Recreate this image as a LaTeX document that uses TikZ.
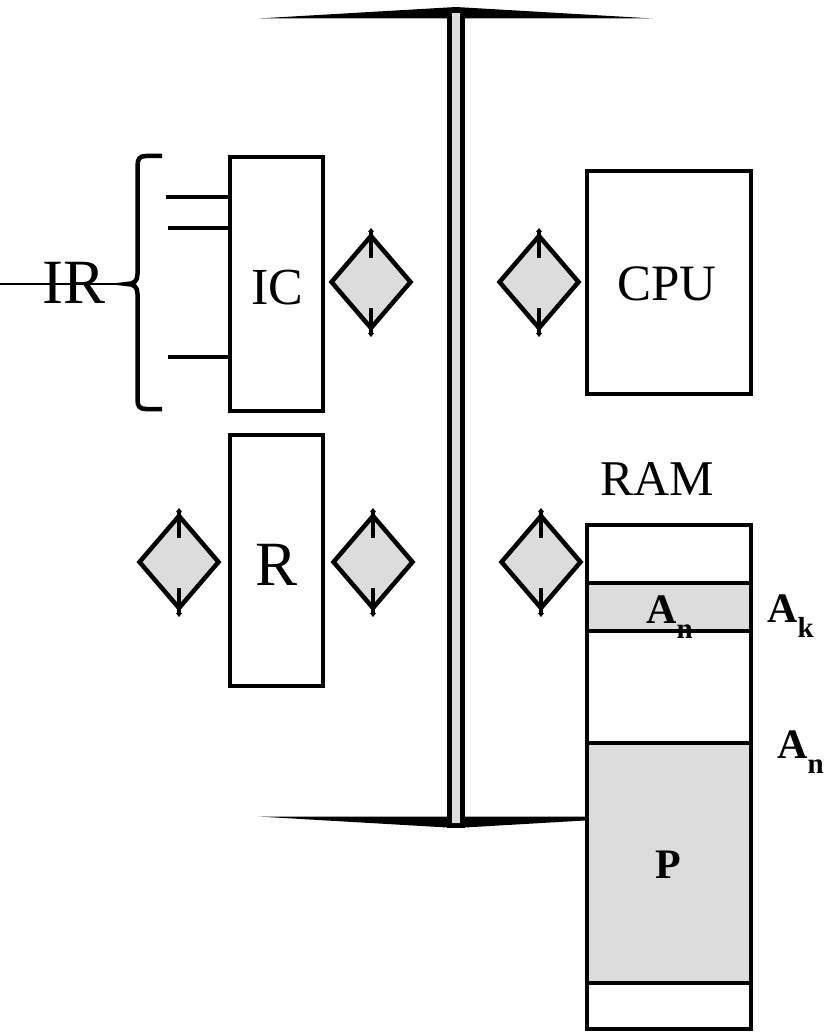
\documentclass[tikz,border=0pt]{standalone}
\usepackage{fontspec}
\setmainfont{Liberation Serif}
\usetikzlibrary{arrows.meta}
\definecolor{lg}{RGB}{220,220,220}
\newcommand\mysubx[1]{\raisebox{-15.5pt}{\fontsize{29}{29}\selectfont\bfseries #1}}
\begin{document}
\begin{tikzpicture}[x=1pt,y=-1pt,line join=miter,
  box/.style={draw,line width=4.5pt,fill=white,inner sep=0pt},
  lab/.style={anchor=base,inner sep=0pt},
  sublab/.style={anchor=base west,inner sep=0pt,font=\fontsize{42}{42}\selectfont\bfseries},
  arr/.style={line width=4.5pt,-{Triangle[length=4pt,width=6pt]}},
  thick4/.style={line width=4.5pt},
  cell/.style={draw,line width=4.5pt,fill=lg},
  dmd/.pic={
    \filldraw[line width=4.5pt,fill=lg] (0,-46) -- (39.5,0) -- (0,46) -- (-39.5,0) -- cycle;
    \draw[arr] (0,-24) -- (0,-54);
    \draw[arr] (0,26) -- (0,55);
  }]
\useasboundingbox (0,0) rectangle (825,1032);
% bus bars
\fill (258,18.5) -- (456,7) -- (653,18.5) -- cycle;
\fill (258,816.5) -- (456,828) -- (653,816.5) -- cycle;
\node[draw,line width=5pt,fill=lg,minimum width=13pt,minimum height=815pt,inner sep=0pt] (bus) at (456,418) {};
% boxes
\node[box,minimum width=93pt,minimum height=254pt] (ic) at (276.5,284) {};
\node[box,minimum width=93pt,minimum height=251pt] (r) at (276.5,560.5) {};
\node[box,minimum width=164pt,minimum height=223pt] (cpu) at (669,282.5) {};
\node[box,minimum width=164pt,minimum height=504pt] (ram) at (669,777) {};
\filldraw[cell] (587,583) rectangle (751,631);
\filldraw[cell] (587,743) rectangle (751,983);
% labels
\node[lab,font=\fontsize{52}{52}\selectfont] (tic) at (277,304) {IC};
\node[lab,font=\fontsize{51}{51}\selectfont] (tcpu) at (667,300) {CPU};
\node[lab,font=\fontsize{50}{50}\selectfont] (tram) at (657,495) {RAM};
\node[lab,font=\fontsize{63}{63}\selectfont] (tr) at (277,585) {R};
\node[lab,font=\fontsize{63}{63}\selectfont] (tir) at (74,303) {IR};
\node[lab,font=\fontsize{42}{42}\selectfont\bfseries] (tp) at (668,878) {P};
\node[sublab] (an1) at (646,623) {A\mysubx{n}};
\node[sublab] (ak) at (767,622) {A\mysubx{k}};
\node[sublab] (an2) at (777,758) {A\mysubx{n}};
% diamonds
\pic (d1) at (371,282) {dmd};
\pic (d2) at (539,282) {dmd};
\pic (d3) at (179,562) {dmd};
\pic (d4) at (373,562) {dmd};
\pic (d5) at (541,562) {dmd};
% IR brace
\coordinate (cusp) at (127,284);
\coordinate (irl) at (0,284);
\draw[thick4] (162,156) -- (146,156) .. controls (139.5,156) and (137.5,159) .. (137.5,166)
  -- (137.5,274) .. controls (137.5,281) and (134,284) .. (cusp)
  .. controls (134,284) and (137.5,287) .. (137.5,294)
  -- (137.5,400) .. controls (137.5,406) and (139.5,409) .. (146,409) -- (162,409);
\draw[line width=2.5pt] (irl) -- (cusp);
% IC inputs
\coordinate (i1) at (166,197);
\coordinate (i2) at (168,228);
\coordinate (i3) at (168,357);
\foreach \i in {i1,i2,i3}{\draw[thick4] (\i) -- (\i -| ic.west);}
\end{tikzpicture}
\end{document}
